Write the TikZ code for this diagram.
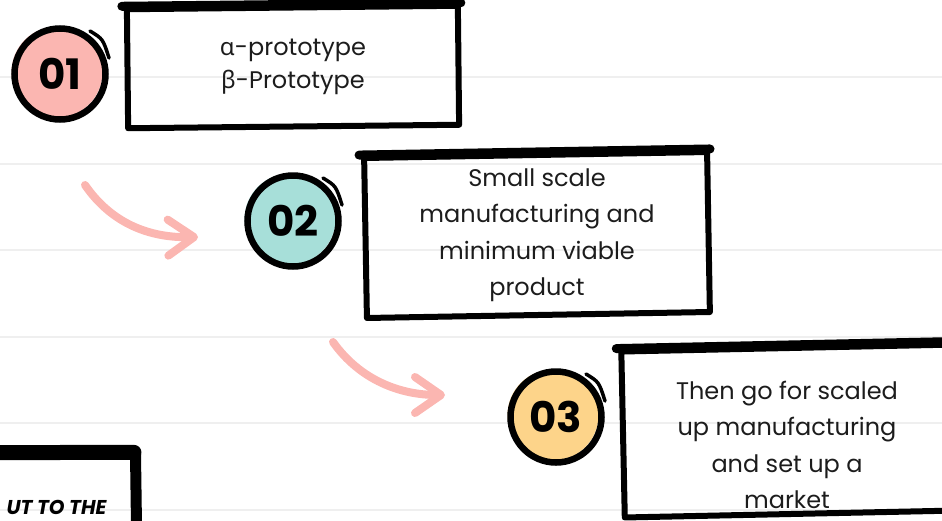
\documentclass[tikz,border=0pt]{standalone}
\usepackage{fontspec}
\setmainfont{Poppins}
\newfontfamily\greekfont{Noto Sans}
\usetikzlibrary{arrows.meta, calc}
\definecolor{salmon}{HTML}{FBB6B1}
\definecolor{mint}{HTML}{A7DFD9}
\definecolor{peach}{HTML}{FDD48A}
\definecolor{ruling}{HTML}{EFEFEF}
\definecolor{ink}{HTML}{1C1C1C}

\begin{document}
\begin{tikzpicture}[x=1pt,y=-1pt,
    stepbox/.style={draw, line width=6pt, line join=round, inner sep=0pt},
    steptext/.style={align=center, text=ink, font=\fontsize{24}{36.5}\selectfont},
    badge/.style={circle, draw, line width=6.5pt, minimum size=91pt, inner sep=0pt,
        font=\fontsize{42}{42}\selectfont\bfseries,
        preaction={fill=#1, transform canvas={shift={(-3pt,2pt)}}}},
    flow/.style={salmon, line width=8pt, line cap=round,
        -{Straight Barb[length=26pt, width=36pt, round]}}]
    \useasboundingbox (0,0) rectangle (942,520);
    \clip (0,0) rectangle (942,520);
    \foreach \y in {77,163.5,250,336.5,423,509.5}
        \draw[ruling, line width=2pt] (0,\y) -- (942,\y);

    \node[stepbox, minimum width=331pt, minimum height=119pt, rotate=0.6] (b1) at (293,67) {};
    \node[stepbox, minimum width=343pt, minimum height=160pt, rotate=1] (b2) at (537,235) {};
    \node[stepbox, minimum width=334pt, minimum height=166pt, rotate=1.2] (b3) at (790,431) {};
    \node[stepbox, minimum width=162pt, minimum height=143pt, rotate=0.8] (b4) at (53,526) {};
    \foreach \b in {b1,b2,b3}
        \draw[line width=9pt, line cap=round] ($(\b.north west)+(-2,0)$) -- (\b.north east);
    \draw[line width=15pt, line cap=round] (b4.north west) -- ($(b4.north east)+(-2,2)$);
    \draw[line width=10pt] (b4.north east) -- (b4.south east);

    \node[steptext, font=\fontsize{24}{33}\selectfont] (t1) at (293,67)
        {{\greekfont α}-prototype\\{\greekfont β}-Prototype};
    \node[steptext] (t2) at (537,235) {Small scale\\manufacturing and\\minimum viable\\product};
    \node[steptext] (t3) at (787,445) {Then go for scaled\\up manufacturing\\and set up a\\market};
    \node[anchor=base east, font=\fontsize{20}{20}\selectfont\bfseries\itshape] (t4) at (110,514) {UT TO THE};

    \node[badge=salmon] (c01) at (60,74) {01};
    \node[badge=mint] (c02) at (293,221) {02};
    \node[badge=peach] (c03) at (556,417) {03};
    \foreach \c in {c01,c02,c03}
        \draw[line width=3.5pt, line cap=round] ($(\c.center)+(30,-43)$)
            .. controls ($(\c.center)+(43,-35)$) .. ($(\c.center)+(49,-16)$);

    \coordinate (a1s) at (85,185);
    \coordinate (a1e) at (198,237);
    \coordinate (a2s) at (333,342);
    \coordinate (a2e) at (445,395);
    \draw[flow] (a1s) .. controls (112,224) and (150,238) .. (a1e);
    \draw[flow] (a2s) .. controls (360,380) and (400,395) .. (a2e);
\end{tikzpicture}
\end{document}
